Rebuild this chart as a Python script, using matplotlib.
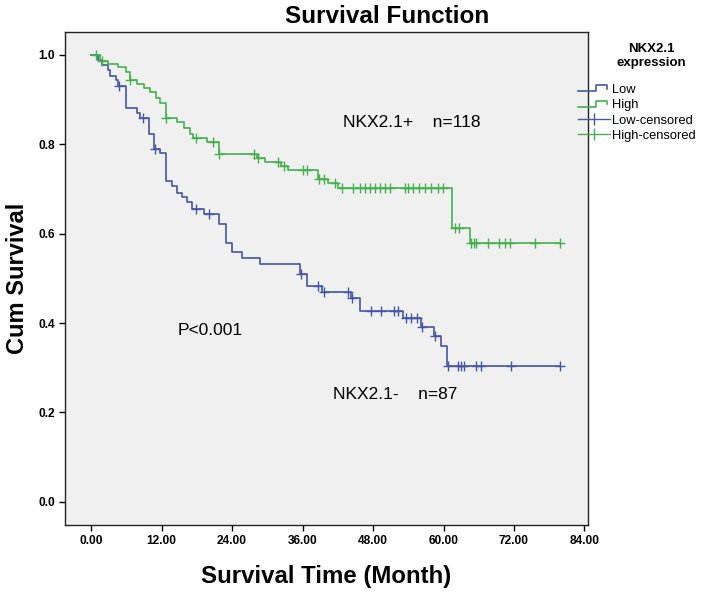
import numpy as np
import matplotlib.pyplot as plt
from matplotlib.lines import Line2D
from matplotlib.legend_handler import HandlerBase

plt.rcParams['font.family'] = ['Liberation Sans', 'DejaVu Sans']

# NKX2.1 low (n=87): step times (months) and cumulative survival after each step
low_t = [1.2, 1.9, 2.8, 3.3, 4.2, 4.5, 5.9, 7.9, 8.4, 9.8, 10.7, 11.8, 12.7, 13.8,
         14.6, 15.5, 16.3, 17.2, 19.2, 21.7, 22.9, 24.0, 25.7, 28.8, 35.6, 36.7,
         39.3, 44.3, 45.8, 53.1, 56.2, 58.4, 59.6, 60.6]
low_s = [0.989, 0.977, 0.966, 0.954, 0.943, 0.931, 0.882, 0.871, 0.860, 0.822,
         0.789, 0.781, 0.718, 0.707, 0.692, 0.681, 0.670, 0.656, 0.645, 0.621,
         0.580, 0.558, 0.545, 0.533, 0.509, 0.483, 0.470, 0.456, 0.427, 0.411,
         0.392, 0.371, 0.349, 0.304]
low_cens = [4.75, 8.9, 10.9, 17.8, 20.0, 35.7, 38.7, 39.7, 43.8, 44.5, 47.6, 49.4,
            51.5, 52.3, 53.7, 54.5, 55.5, 56.4, 58.6, 60.8, 62.4, 63.0, 63.5, 65.6,
            66.4, 71.5, 79.8]

# NKX2.1 high (n=118)
high_t = [1.6, 2.8, 4.5, 5.9, 6.7, 7.9, 9.0, 10.1, 11.0, 11.8, 12.7, 14.6, 15.8,
          16.9, 17.4, 19.8, 21.7, 28.2, 29.6, 32.4, 33.6, 38.6, 40.3, 42.0, 61.5, 64.5]
high_s = [0.987, 0.979, 0.972, 0.962, 0.945, 0.936, 0.927, 0.916, 0.904, 0.893,
          0.860, 0.849, 0.837, 0.822, 0.815, 0.806, 0.779, 0.770, 0.761, 0.752,
          0.743, 0.722, 0.713, 0.702, 0.612, 0.580]
high_cens = [0.8, 1.9, 6.7, 12.8, 17.8, 20.8, 21.7, 27.7, 28.5, 31.8, 32.9, 36.0,
             36.8, 38.8, 39.7, 41.5, 42.7, 44.6, 45.8, 46.6, 47.5, 48.3, 49.2, 50.0,
             50.9, 53.4, 54.0, 54.8, 55.9, 56.8, 57.9, 59.1, 59.9, 61.9, 62.6, 64.6,
             65.2, 65.6, 67.5, 69.4, 70.4, 71.3, 75.5, 79.8]

x_ticks = [0, 12, 24, 36, 48, 60, 72, 84]
y_ticks = [0.0, 0.2, 0.4, 0.6, 0.8, 1.0]

blue = '#4357A6'
green = '#44B04E'


def surv_at(t, times, surv):
    idx = np.searchsorted(times, t, side='right')
    vals = np.concatenate([[1.0], surv])
    return vals[idx]


class StepHandler(HandlerBase):
    def create_artists(self, legend, orig_handle, xdescent, ydescent, width,
                       height, fontsize, trans):
        w, h = width, height
        xs = [-xdescent, -xdescent + 0.55 * w, -xdescent + 0.55 * w,
              -xdescent + 0.9 * w, -xdescent + 0.9 * w]
        ys = [-ydescent + 0.2 * h, -ydescent + 0.2 * h, -ydescent + 0.85 * h,
              -ydescent + 0.85 * h, -ydescent + 0.5 * h]
        ln = Line2D(xs, ys, color=orig_handle.get_color(), lw=1.2, transform=trans)
        return [ln]


fig = plt.figure(figsize=(7.02, 5.94), dpi=100)
ax = fig.add_axes([0.0926, 0.1162, 0.745, 0.830])
ax.set_facecolor('#F0F0F0')

end_t = 79.8
for times, surv, cens, col in [(low_t, low_s, low_cens, blue),
                               (high_t, high_s, high_cens, green)]:
    xs = [0] + times + [end_t]
    ys = [1.0] + surv + [surv[-1]]
    ax.step(xs, ys, where='post', color=col, lw=1.2)
    cy = surv_at(np.array(cens), np.array(times), np.array(surv))
    ax.plot(cens, cy, ls='none', marker='+', ms=7, mew=1.0, color=col)

ax.set_xlim(-4.44, 84.6)
ax.set_ylim(-0.052, 1.0515)
ax.set_xticks(x_ticks)
ax.set_xticklabels([f'{v:.2f}' for v in x_ticks])
ax.set_yticks(y_ticks)
ax.set_yticklabels([f'{v:.1f}' for v in y_ticks])
ax.tick_params(direction='out', length=4, width=1, labelsize=8.6, pad=3)
for lab in ax.get_xticklabels() + ax.get_yticklabels():
    lab.set_fontweight('bold')
for sp in ax.spines.values():
    sp.set_linewidth(1.0)
    sp.set_color('#222222')

ax.set_xlabel('Survival Time (Month)', fontsize=17.3, fontweight='bold', va='center')
ax.xaxis.set_label_coords(0.5, -0.1055)
ax.set_ylabel('Cum Survival', fontsize=17, fontweight='bold', va='center')
ax.yaxis.set_label_coords(-0.0899, 0.5)

fig.text(0.551, 0.973, 'Survival Function', ha='center', va='center',
         fontsize=17.5, fontweight='bold')

ax.text(42.9, 0.848, 'NKX2.1+    n=118', ha='left', va='center', fontsize=12.5)
ax.text(14.8, 0.384, 'P<0.001', ha='left', va='center', fontsize=12.5)
ax.text(41.2, 0.240, 'NKX2.1-    n=87', ha='left', va='center', fontsize=12.5)

# legend
fig.text(651 / 702, 1 - 56 / 594, 'NKX2.1\nexpression', ha='center', va='center',
         fontsize=9.5, fontweight='bold', linespacing=1.25)
h_low = Line2D([], [], color=blue)
h_high = Line2D([], [], color=green)
h_lowc = Line2D([], [], color=blue, lw=1.0, marker='|', ms=9, mew=1.0)
h_highc = Line2D([], [], color=green, lw=1.0, marker='|', ms=9, mew=1.0)
fig.legend([h_low, h_high, h_lowc, h_highc],
           ['Low', 'High', 'Low-censored', 'High-censored'],
           handler_map={h_low: StepHandler(), h_high: StepHandler()},
           loc='upper left', bbox_to_anchor=(578 / 702, 1 - 84 / 594),
           frameon=False, fontsize=9.3, handlelength=2.5, handletextpad=0.1,
           labelspacing=0.25, borderpad=0, borderaxespad=0, numpoints=1)

fig.savefig('out.png', dpi=100)
